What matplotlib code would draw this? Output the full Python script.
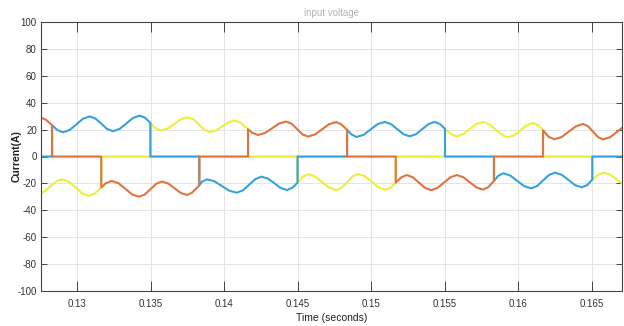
import bisect

import matplotlib
matplotlib.use("Agg")
import matplotlib.pyplot as plt

plt.rcParams["axes.unicode_minus"] = False

# envelope of the conducting phases (s, A)
pos_t = [0.12755, 0.12789, 0.12830, 0.12867, 0.12905, 0.12950, 0.12996, 0.13041,
         0.13086, 0.13126, 0.13166, 0.13205, 0.13245, 0.13290, 0.13336, 0.13381,
         0.13426, 0.13463, 0.13499, 0.13535, 0.13571, 0.13617, 0.13663, 0.13709,
         0.13755, 0.13793, 0.13830, 0.13867, 0.13905, 0.13947, 0.13989, 0.14031,
         0.14073, 0.14112, 0.14152, 0.14163, 0.14192, 0.14231, 0.14279, 0.14327,
         0.14374, 0.14422, 0.14459, 0.14497, 0.14534, 0.14571, 0.14619, 0.14667,
         0.14714, 0.14762, 0.14797, 0.14837, 0.14867, 0.14901, 0.14949, 0.14997,
         0.15045, 0.15093, 0.15136, 0.15178, 0.15221, 0.15263, 0.15306, 0.15348,
         0.15391, 0.15433, 0.15470, 0.15503, 0.15544, 0.15580, 0.15626, 0.15671,
         0.15716, 0.15762, 0.15804, 0.15847, 0.15890, 0.15932, 0.15975, 0.16017,
         0.16060, 0.16102, 0.16139, 0.16170, 0.16208, 0.16248, 0.16297, 0.16345,
         0.16394, 0.16442, 0.16476, 0.16510, 0.16544, 0.16578, 0.16626, 0.16674,
         0.16707]
pos_v = [28.9, 27.3, 23.3, 19.6, 18.0, 19.7, 23.9, 28.1,
         29.8, 28.2, 24.3, 20.4, 18.8, 20.5, 24.6, 28.7,
         30.4, 28.8, 24.9, 21.0, 19.4, 20.8, 24.3, 27.8,
         29.2, 27.6, 23.7, 19.8, 18.2, 19.5, 22.5, 25.5,
         26.8, 25.2, 21.4, 20.2, 17.6, 16.0, 17.5, 21.0,
         24.5, 26.0, 24.4, 20.4, 16.4, 14.8, 16.4, 20.2,
         24.0, 25.6, 24.0, 19.8, 16.4, 14.5, 16.1, 20.1,
         24.1, 25.7, 24.1, 20.35, 16.6, 15.0, 16.6, 20.35,
         24.1, 25.7, 24.1, 20.5, 16.6, 15.0, 16.6, 20.35,
         24.1, 25.7, 24.0, 20.0, 16.0, 14.3, 15.85, 19.6,
         23.35, 24.9, 23.1, 19.5, 14.6, 12.8, 14.5, 18.5,
         22.5, 24.2, 22.5, 18.45, 14.4, 12.7, 14.35, 18.35,
         21.3]

neg_t = [0.12755, 0.12797, 0.12837, 0.12868, 0.12900, 0.12945, 0.12991, 0.13036,
         0.13082, 0.13120, 0.13165, 0.13197, 0.13236, 0.13282, 0.13329, 0.13375,
         0.13422, 0.13461, 0.13500, 0.13539, 0.13578, 0.13621, 0.13663, 0.13706,
         0.13748, 0.13782, 0.13832, 0.13850, 0.13884, 0.13935, 0.13985, 0.14036,
         0.14086, 0.14129, 0.14171, 0.14214, 0.14256, 0.14299, 0.14343, 0.14386,
         0.14429, 0.14465, 0.14500, 0.14537, 0.14574, 0.14620, 0.14668, 0.14715,
         0.14762, 0.14800, 0.14838, 0.14876, 0.14914, 0.14960, 0.15006, 0.15052,
         0.15099, 0.15135, 0.15168, 0.15207, 0.15243, 0.15284, 0.15326, 0.15367,
         0.15408, 0.15452, 0.15496, 0.15540, 0.15583, 0.15628, 0.15672, 0.15717,
         0.15762, 0.15797, 0.15836, 0.15865, 0.15900, 0.15947, 0.15994, 0.16042,
         0.16089, 0.16129, 0.16170, 0.16211, 0.16252, 0.16297, 0.16343, 0.16388,
         0.16433, 0.16470, 0.16505, 0.16544, 0.16580, 0.16626, 0.16672, 0.16707]
neg_v = [-27.5, -24.35, -20.4, -17.9, -17.0, -18.8, -23.1, -27.4,
         -29.2, -27.6, -23.0, -19.8, -18.2, -19.9, -24.05, -28.2,
         -29.9, -28.25, -24.25, -20.25, -18.6, -20.1, -23.6, -27.1,
         -28.6, -26.9, -21.5, -18.7, -17.0, -18.45, -21.95, -25.45,
         -26.9, -25.2, -20.95, -16.7, -15.0, -16.45, -19.95, -23.45,
         -24.9, -23.2, -19.5, -14.9, -13.2, -14.9, -19.05, -23.2,
         -24.9, -23.2, -18.95, -14.7, -13.0, -14.7, -18.85, -23.0,
         -24.7, -23.1, -19.4, -15.4, -13.8, -15.45, -19.4, -23.35,
         -25.0, -23.35, -19.4, -15.45, -13.8, -15.4, -19.2, -23.0,
         -24.6, -22.8, -18.2, -14.3, -12.5, -14.15, -18.1, -22.05,
         -23.7, -22.0, -17.85, -13.7, -12.0, -13.6, -17.45, -21.3,
         -22.9, -21.3, -17.2, -13.6, -12.0, -13.5, -17.25, -20.0]

# commutation instants and which phase carries the positive / negative current
pos_switch = [0.12830, 0.13499, 0.14163, 0.14837, 0.15503, 0.16170]
pos_phase = ["a", "b", "c", "a", "b", "c", "a"]
neg_switch = [0.13165, 0.13832, 0.14500, 0.15168, 0.15836, 0.16505]
neg_phase = ["c", "a", "b", "c", "a", "b", "c"]

colors = {"a": "#e0733f", "b": "#35a2dc", "c": "#eeee3c"}

x_ticks = [0.13, 0.135, 0.14, 0.145, 0.15, 0.155, 0.16, 0.165]
x_ticklabels = ["0.13", "0.135", "0.14", "0.145", "0.15", "0.155", "0.16", "0.165"]
y_ticks = [-100, -80, -60, -40, -20, 0, 20, 40, 60, 80, 100]


def phase_trace(name):
    edges = [pos_t[0]] + sorted(pos_switch + neg_switch) + [pos_t[-1]]
    ts, vs = [], []
    for a, b in zip(edges[:-1], edges[1:]):
        m = 0.5 * (a + b)
        if pos_phase[bisect.bisect(pos_switch, m)] == name:
            seg = [(t, v) for t, v in zip(pos_t, pos_v) if a <= t <= b]
        elif neg_phase[bisect.bisect(neg_switch, m)] == name:
            seg = [(t, v) for t, v in zip(neg_t, neg_v) if a <= t <= b]
        else:
            seg = [(a, 0.0), (b, 0.0)]
        ts += [p[0] for p in seg]
        vs += [p[1] for p in seg]
    return ts, vs


tick_font = ["Liberation Sans Narrow", "Liberation Sans", "DejaVu Sans"]

fig = plt.figure(figsize=(6.24, 3.26), dpi=100)
ax = fig.add_axes([41 / 624, 1 - 291 / 326, 581 / 624, 269 / 326])

# orange on top, then blue, yellow underneath (as on the scope)
for name in ["c", "b", "a"]:
    t, v = phase_trace(name)
    ax.plot(t, v, color=colors[name], lw=1.5, solid_joinstyle="round")

ax.set_xlim(pos_t[0], pos_t[-1])
ax.set_ylim(-100, 100)
ax.set_xticks(x_ticks)
ax.set_xticklabels(x_ticklabels)
ax.set_yticks(y_ticks)
ax.grid(color="#e4e4e4", lw=0.7)
ax.set_axisbelow(True)
ax.tick_params(axis="x", direction="in", length=7, width=0.7, top=True,
               colors="#444444", labelcolor="#333333", labelsize=7, pad=6)
ax.tick_params(axis="y", direction="in", length=4, width=0.7, right=True,
               colors="#444444", labelcolor="#333333", labelsize=7, pad=3)
for lab in ax.get_xticklabels() + ax.get_yticklabels():
    lab.set_family(tick_font)
for sp in ax.spines.values():
    sp.set_color("#444444")
    sp.set_linewidth(0.8)

ax.set_title("input voltage", color="#b4b4b4", fontsize=7, pad=4, family=tick_font)
ax.set_xlabel("Time (seconds)", fontsize=7.5, color="#222222", family=tick_font)
ax.xaxis.set_label_coords(0.5, -22 / 269)
ax.set_ylabel("Current(A)", fontsize=7.5, color="#222222", fontweight="bold",
              family=tick_font)
ax.yaxis.set_label_coords(-19 / 581, 0.5)

fig.savefig("out.png", dpi=100)
